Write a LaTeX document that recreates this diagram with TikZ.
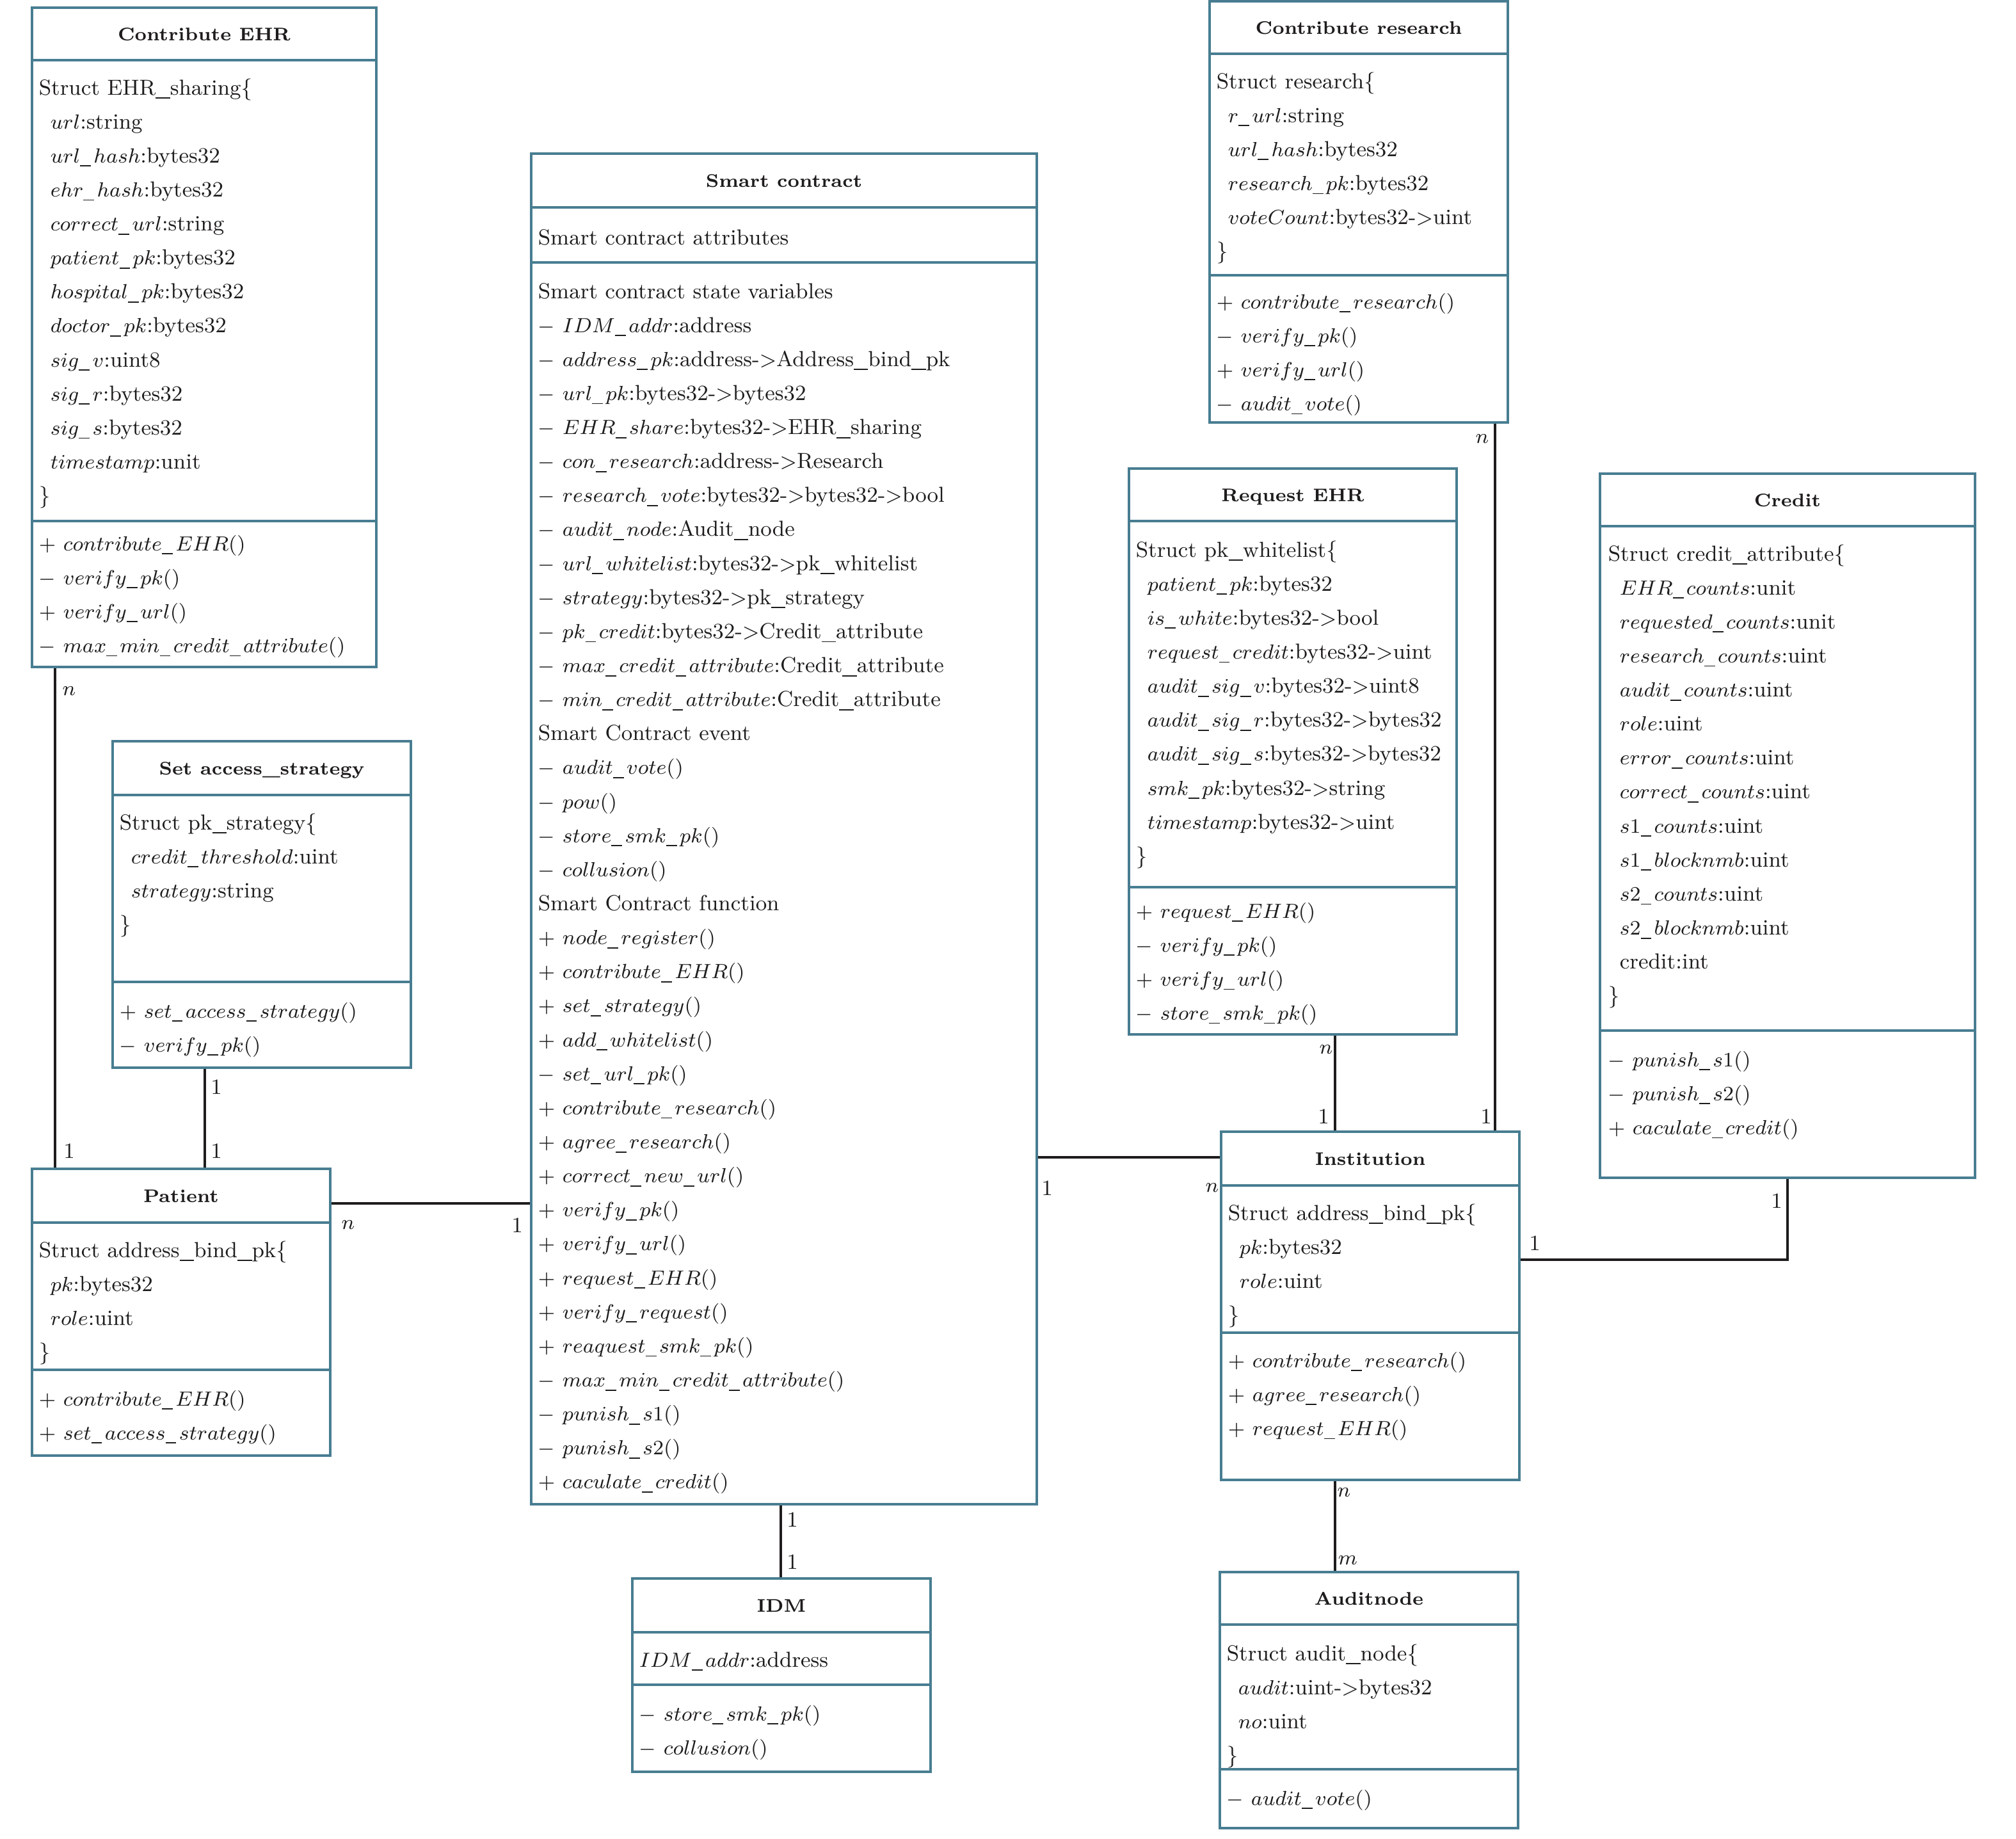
\RequirePackage{fix-cm}
\documentclass[tikz,border=0pt]{standalone}
\usetikzlibrary{fit}
\DeclareMathSizes{8.5}{8}{6}{5}
\definecolor{umlblue}{RGB}{72,125,145}
\definecolor{ink}{RGB}{30,28,29}
\tikzset{
 umlbox/.style={draw=umlblue, line width=0.8pt, inner sep=0pt},
 divline/.style={draw=umlblue, line width=0.8pt},
 umltitle/.style={font=\fontsize{7.15}{9}\selectfont\bfseries, text=ink, inner sep=0pt, anchor=base},
 txt/.style={font=\fontsize{8.5}{10}\selectfont, text=ink, anchor=base west, inner sep=0pt},
 conn/.style={draw=ink, line width=0.9pt},
 lbl/.style={font=\fontsize{8.5}{10}\selectfont, text=ink, inner sep=0pt},
}
\newcommand\ind{\hspace*{4.5pt}}
\newcommand\mU{\rule[-1.5pt]{4.2pt}{0.45pt}\kern1.1pt}
\newcommand\tU{\rule[-1.5pt]{5.6pt}{0.45pt}}
\newcommand\umllines[4]{\foreach \itm [count=\i] in {#4} {\node[txt] (#1\i) at (#2,{#3+(\i-1)*26.57}) {\itm};}}
% #1 name, #2 L, #3 T, #4 R, #5 B, #6 header y, #7 divider y, #8 title
\newcommand\umlclass[8]{%
 \node[umlbox, fit={(#2,#3) (#4,#5)}] (#1) {};
 \draw[divline] (#1.west |- 0,#6) -- (#1.east |- 0,#6);
 \draw[divline] (#1.west |- 0,#7) -- (#1.east |- 0,#7);
 \node[umltitle] (#1t) at ({(#2+#4)/2},{(#3+#6)/2+5}) {#8};
}
\begin{document}
\begin{tikzpicture}[x=0.5pt,y=-0.5pt]
\useasboundingbox (0,0) rectangle (1575,1436);

% Contribute EHR
\umlclass{ceh}{25}{6}{294}{521}{47}{407}{Contribute EHR}
\umllines{ceha}{30}{74}{{Struct EHR\tU sharing\{},{\ind$url$:string},{\ind$url\mU hash$:bytes32},{\ind$ehr\mU hash$:bytes32},{\ind$correct\mU url$:string},{\ind$patient\mU pk$:bytes32},{\ind$hospital\mU pk$:bytes32},{\ind$doctor\mU pk$:bytes32},{\ind$sig\mU v$:uint8},{\ind$sig\mU r$:bytes32},{\ind$sig\mU s$:bytes32},{\ind$timestamp$:unit},{\}}}
\umllines{cehm}{30}{430}{{$+$ $contribute\mU EHR()$},{$-$ $verify\mU pk()$},{$+$ $verify\mU url()$},{$-$ $max\mU min\mU credit\mU attribute()$}}

% Smart contract
\umlclass{sc}{415}{120}{810}{1175}{162}{205}{Smart contract}
\node[txt] (sca) at (420,191) {Smart contract attributes};
\umllines{scv}{420}{233}{{Smart contract state variables},{$-$ $IDM\mU addr$:address},{$-$ $address\mU pk$:address-$>$Address\tU bind\tU pk},{$-$ $url\mU pk$:bytes32-$>$bytes32},{$-$ $EHR\mU share$:bytes32-$>$EHR\tU sharing},{$-$ $con\mU research$:address-$>$Research},{$-$ $research\mU vote$:bytes32-$>$bytes32-$>$bool},{$-$ $audit\mU node$:Audit\tU node},{$-$ $url\mU whitelist$:bytes32-$>$pk\tU whitelist},{$-$ $strategy$:bytes32-$>$pk\tU strategy},{$-$ $pk\mU credit$:bytes32-$>$Credit\tU attribute},{$-$ $max\mU credit\mU attribute$:Credit\tU attribute},{$-$ $min\mU credit\mU attribute$:Credit\tU attribute},{Smart Contract event},{$-$ $audit\mU vote()$},{$-$ $pow()$},{$-$ $store\mU smk\mU pk()$},{$-$ $collusion()$},{Smart Contract function},{$+$ $node\mU register()$},{$+$ $contribute\mU EHR()$},{$+$ $set\mU strategy()$},{$+$ $add\mU whitelist()$},{$-$ $set\mU url\mU pk()$},{$+$ $contribute\mU research()$},{$+$ $agree\mU research()$},{$+$ $correct\mU new\mU url()$},{$+$ $verify\mU pk()$},{$+$ $verify\mU url()$},{$+$ $request\mU EHR()$},{$+$ $verify\mU request()$},{$+$ $reaquest\mU smk\mU pk()$},{$-$ $max\mU min\mU credit\mU attribute()$},{$-$ $punish\mU s1()$},{$-$ $punish\mU s2()$},{$+$ $caculate\mU credit()$}}

% Contribute research
\umlclass{cr}{945}{1}{1178}{330}{42}{215}{Contribute research}
\umllines{cra}{950}{69}{{Struct research\{},{\ind$r\mU url$:string},{\ind$url\mU hash$:bytes32},{\ind$research\mU pk$:bytes32},{\ind$voteCount$:bytes32-$>$uint},{\}}}
\umllines{crm}{950}{241}{{$+$ $contribute\mU research()$},{$-$ $verify\mU pk()$},{$+$ $verify\mU url()$},{$-$ $audit\mU vote()$}}

% Request EHR
\umlclass{re}{882}{366}{1138}{808}{407}{693}{Request EHR}
\umllines{rea}{887}{435}{{Struct pk\tU whitelist\{},{\ind$patient\mU pk$:bytes32},{\ind$is\mU white$:bytes32-$>$bool},{\ind$request\mU credit$:bytes32-$>$uint},{\ind$audit\mU sig\mU v$:bytes32-$>$uint8},{\ind$audit\mU sig\mU r$:bytes32-$>$bytes32},{\ind$audit\mU sig\mU s$:bytes32-$>$bytes32},{\ind$smk\mU pk$:bytes32-$>$string},{\ind$timestamp$:bytes32-$>$uint},{\}}}
\umllines{rem}{887}{717}{{$+$ $request\mU EHR()$},{$-$ $verify\mU pk()$},{$+$ $verify\mU url()$},{$-$ $store\mU smk\mU pk()$}}

% Credit
\umlclass{cred}{1250}{370}{1543}{920}{411}{805}{Credit}
\umllines{creda}{1256}{438}{{Struct credit\tU attribute\{},{\ind$EHR\mU counts$:unit},{\ind$requested\mU counts$:unit},{\ind$research\mU counts$:uint},{\ind$audit\mU counts$:uint},{\ind$role$:uint},{\ind$error\mU counts$:uint},{\ind$correct\mU counts$:uint},{\ind$s1\mU counts$:uint},{\ind$s1\mU blocknmb$:uint},{\ind$s2\mU counts$:uint},{\ind$s2\mU blocknmb$:uint},{\ind credit:int},{\}}}
\umllines{credm}{1256}{833}{{$-$ $punish\mU s1()$},{$-$ $punish\mU s2()$},{$+$ $caculate\mU credit()$}}

% Set access_strategy
\umlclass{sas}{88}{579}{321}{834}{621}{767}{Set access\_strategy}
\umllines{sasa}{93}{648}{{Struct pk\tU strategy\{},{\ind$credit\mU threshold$:uint},{\ind$strategy$:string},{\}}}
\umllines{sasm}{93}{795}{{$+$ $set\mU access\mU strategy()$},{$-$ $verify\mU pk()$}}

% Patient
\umlclass{pat}{25}{913}{258}{1137}{955}{1070}{Patient}
\umllines{pata}{30}{982}{{Struct address\tU bind\tU pk\{},{\ind$pk$:bytes32},{\ind$role$:uint},{\}}}
\umllines{patm}{30}{1098}{{$+$ $contribute\mU EHR()$},{$+$ $set\mU access\mU strategy()$}}

% Institution
\umlclass{inst}{954}{884}{1187}{1156}{926}{1041}{Institution}
\umllines{insta}{959}{953}{{Struct address\tU bind\tU pk\{},{\ind$pk$:bytes32},{\ind$role$:uint},{\}}}
\umllines{instm}{959}{1068}{{$+$ $contribute\mU research()$},{$+$ $agree\mU research()$},{$+$ $request\mU EHR()$}}

% IDM
\umlclass{idm}{494}{1233}{727}{1384}{1275}{1316}{IDM}
\node[txt] (idma) at (499,1302) {$IDM\mU addr$:address};
\umllines{idmm}{499}{1344}{{$-$ $store\mU smk\mU pk()$},{$-$ $collusion()$}}

% Auditnode
\umlclass{aud}{953}{1228}{1186}{1428}{1269}{1382}{Auditnode}
\umllines{auda}{958}{1297}{{Struct audit\tU node\{},{\ind$audit$:uint-$>$bytes32},{\ind$no$:uint},{\}}}
\node[txt] (audm) at (958,1410) {$-$ $audit\mU vote()$};

% connectors
\draw[conn] (ceh.south -| 43,0) -- (pat.north -| 43,0);
\draw[conn] (sas.south -| 160,0) -- (pat.north -| 160,0);
\draw[conn] (pat.east |- 0,940) -- (sc.west |- 0,940);
\draw[conn] (sc.south -| 610,0) -- (idm.north -| 610,0);
\draw[conn] (sc.east |- 0,904) -- (inst.west |- 0,904);
\draw[conn] (re.south -| 1043,0) -- (inst.north -| 1043,0);
\draw[conn] (cr.south -| 1168,0) -- (inst.north -| 1168,0);
\draw[conn] (inst.east |- 0,984) -| (cred.south);
\draw[conn] (inst.south -| 1043,0) -- (aud.north -| 1043,0);

% multiplicities
\node[lbl] (m1) at (54,540) {$n$};
\node[lbl] (m2) at (54,899) {1};
\node[lbl] (m3) at (169,849) {1};
\node[lbl] (m4) at (169,899) {1};
\node[lbl] (m5) at (272,957) {$n$};
\node[lbl] (m6) at (404,957) {1};
\node[lbl] (m7) at (619,1187) {1};
\node[lbl] (m8) at (619,1220) {1};
\node[lbl] (m9) at (818,928) {1};
\node[lbl] (m10) at (947,928) {$n$};
\node[lbl] (m11) at (1036,820) {$n$};
\node[lbl] (m12) at (1034,872) {1};
\node[lbl] (m13) at (1158,343) {$n$};
\node[lbl] (m14) at (1161,872) {1};
\node[lbl] (m15) at (1199,971) {1};
\node[lbl] (m16) at (1388,938) {1};
\node[lbl] (m17) at (1050,1166) {$n$};
\node[lbl] (m18) at (1053,1219) {$m$};
\end{tikzpicture}
\end{document}
